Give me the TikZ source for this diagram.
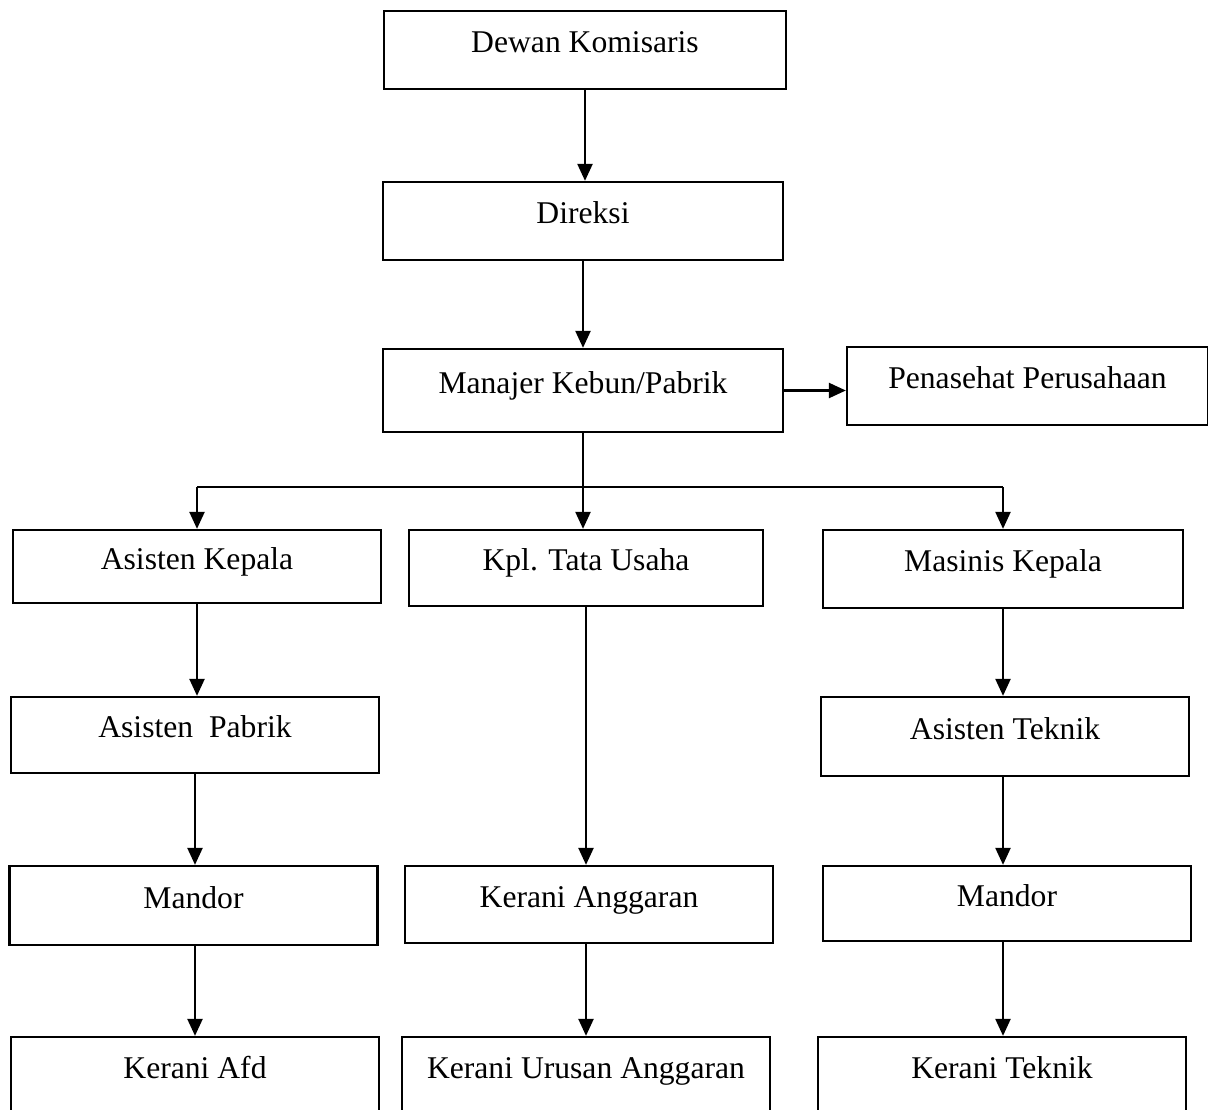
\documentclass[tikz,border=0pt]{standalone}
\usepackage{fontspec}
\setmainfont{Liberation Serif}
\usetikzlibrary{arrows.meta}

\begin{document}
\begin{tikzpicture}[
    box/.style={rectangle,draw,line width=1.3pt,minimum width=7.36cm,minimum height=1.56cm,
      inner sep=0pt,text height=0.45cm,text depth=0.35cm,font=\fontsize{18}{22}\selectfont},
    arr/.style={line width=1.3pt,-{Triangle[length=0.34cm,width=0.3cm]}},
    ln/.style={line width=1.3pt}]
%  \draw[help lines] (0,0) grid (24,-22);
    \useasboundingbox (0,0) rectangle (24.16,-22.2);
    \path (11.70,-1.00) node(dk) [box,minimum width=8.04cm] {Dewan Komisaris}
    (11.66,-4.42) node(dir) [box,minimum width=8cm] {Direksi}
    (11.66,-7.81) node(mk) [box,minimum width=8cm,minimum height=1.66cm] {Manajer Kebun/Pabrik}
    (20.55,-7.72) node(pp) [box,minimum width=7.22cm] {Penasehat Perusahaan};
    \path (3.94,-11.33) node(ak) [box,minimum height=1.46cm] {Asisten Kepala}
    (11.72,-11.36) node(ktu) [box,minimum width=7.08cm,minimum height=1.52cm] {Kpl. Tata Usaha}
    (20.06,-11.38) node(mas) [box,minimum width=7.2cm] {Masinis Kepala};
    \path (3.90,-14.70) node(ap) [box,minimum height=1.52cm] {Asisten\ \ Pabrik}
    (20.10,-14.73) node(at) [box,minimum height=1.58cm] {Asisten Teknik};
    \path (3.87,-18.11) node(ml) [box,minimum height=1.58cm] {Mandor}
    (11.78,-18.09) node(ka) [box,minimum height=1.54cm] {Kerani Anggaran}
    (20.14,-18.07) node(mr) [box,minimum height=1.5cm] {Mandor};
    \path (3.90,-21.52) node(kaf) [box] {Kerani Afd}
    (11.72,-21.52) node(kua) [box] {Kerani Urusan Anggaran}
    (20.04,-21.52) node(kt) [box] {Kerani Teknik};
    \coordinate (bus) at (11.66,-9.74);
    % top chain
    \draw[arr] (dk.south) -- (dk.south |- dir.north);
    \draw[arr] (dir.south) -- (dir.south |- mk.north);
    \draw[arr] (mk.east) -- (mk.east -| pp.west);
    % branches
    \draw[ln] (mk.south) -- (bus);
    \draw[ln] (bus -| ak) -- (bus -| mas);
    \draw[arr] (bus -| ak) -- (ak.north);
    \draw[arr] (bus) -- (bus |- ktu.north);
    \draw[arr] (bus -| mas) -- (mas.north);
    % left column
    \draw[arr] (ak.south) -- (ak.south |- ap.north);
    \draw[arr] (ap.south) -- (ap.south |- ml.north);
    \draw[arr] (ml.south -| ap) -- (ap |- kaf.north);
    % middle column
    \draw[arr] (ktu.south) -- (ktu.south |- ka.north);
    \draw[arr] (ka.south -| ktu) -- (ktu |- kua.north);
    % right column
    \draw[arr] (mas.south) -- (mas.south |- at.north);
    \draw[arr] (at.south -| mas) -- (mas |- mr.north);
    \draw[arr] (mr.south -| mas) -- (mas |- kt.north);
  \end{tikzpicture}
\end{document}
